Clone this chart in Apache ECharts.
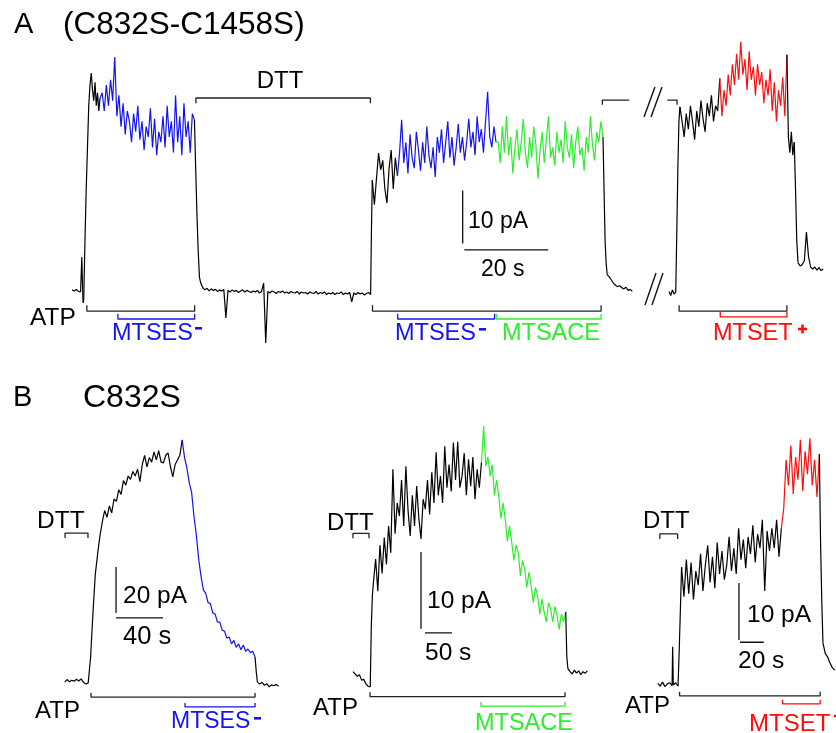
<!DOCTYPE html>
<html>
<head>
<meta charset="utf-8">
<script src="https://cdn.jsdelivr.net/npm/echarts@6/dist/echarts.min.js"></script>
<style>
  html, body { margin: 0; padding: 0; background: #fff; }
  #fig { width: 836px; height: 733px; }
</style>
</head>
<body>
<div id="fig"></div>
<script>
var BLK = '#000', BLU = '#1414f0', GRN = '#2cee2c', RED = '#ff0d0d';

// ---- Panel A, current in pA, time in s (second trace shifted past the break)
var a1Start = 2.9;
var a1Pre = [0.6, 0.4, 0.7, 0.3, 0.2];
var a1Blip = [3.5, 6.9, 2.0, -1.9, -1.5];
var a1Rise = [10, 20, 28, 36, 40, 42.3, 39, 37, 40.5, 36, 38.5, 35, 37.5];
var a1Mtses = [38.5, 35, 40, 36, 41, 37, 45.4, 34, 38, 32, 36.5, 30.5, 35, 33, 29, 34.5, 31, 36, 29.5, 33,
  27.5, 32, 30, 35.5, 28, 33.5, 26.5, 31, 29, 34, 28, 36, 30, 33, 27, 38, 29, 34, 26.5, 36.5,
  30, 33, 27, 34.5, 33.3];
var a1Off = [24, 15, 8, 3, 1.9];
var a1Dtt = [1.0, 0.6, 0.9, 0.4, 0.8, 0.5, 0.7, 0.3, 0.6, 0.4, 0.7, -4.8, 0.5, 0.2, 0.6, 0.3, 0.5, 0.1, 0.4, 0.6,
  0.2, 0.5, 0.3, 0.1, 0.4, 0.2, 0.5, 0.0, 0.3, 1.9, -9.6, 0.3, 0.0, 0.4, 0.2, -0.1, 0.3, 0.1, 0.4, 0.0,
  0.2, -0.1, 0.3, 0.1, 0.0, 0.3, -0.2, 0.2, 0.0, 0.1, -0.2, 0.2, 0.0, -0.1, 0.3, -0.2, 0.1, -0.1, 0.2, -0.3,
  0.0, -0.2, 0.1, -0.3, 0.0, -0.1, 0.2, -0.3, 0.0, -0.2, 0.1, -1.7, 0.0, -0.3, 0.1, -0.2, 0.0, -0.4, -0.1, 0.1, -0.3];
var a1Rise2 = [12, 21.7];
var a1Atp2 = [17, 22, 26.9, 23.7, 25.5, 20, 17.3, 24, 27.5, 20, 26, 22.5];
var a1Mtses2 = [27, 33.3, 25, 29, 23, 30.5, 26, 24, 31, 27.5, 23.5, 29, 25, 32, 26.5, 24, 28, 22.3, 30,
  27, 31.5, 25, 29, 33, 26, 30, 24.5, 28, 32.5, 27, 30, 25.5, 29, 33.5, 28, 31, 26.5, 34, 29,
  31.5, 27, 33, 38.7, 30, 28, 32, 29];
var a1Mtsace = [29, 25, 32, 27, 34, 26.5, 30, 23, 28, 31.5, 25.5, 29, 33.5, 27, 24, 30, 26, 32, 28.5, 22,
  27.5, 31, 25, 29.5, 34, 26, 28, 24.5, 31, 27, 29.5, 25, 33, 28, 26, 30.5, 24, 29, 32, 26.5,
  28, 23.5, 30, 27, 34, 28.5, 25.5, 31, 29, 33, 30];
var a1Off2 = [20, 10, 5.8, 3.5];
var a1Tail = [3.1, 2.5, 1.9, 1.5, 1.2, 1.4, 1.0, 0.8, 1.1, 0.5, 0.7, 0.3];

var a2Start = 145.2;
var a2Pre = [0.3, -0.5, 0.6, -0.2, 0.2];
var a2Rise = [12, 24, 33, 35.8];
var a2Atp = [33, 30, 34.5, 31.5, 36, 33, 29.5, 35, 32, 37, 33.5, 31, 36.5, 34, 38, 33, 36, 35, 41.3];
var a2Mtset = [34, 39, 36, 42, 38, 44, 40, 46, 41, 48.3, 42, 45, 39, 46.5, 41, 43.5, 38, 44, 40, 42.5,
  36.5, 41, 38, 43, 35, 40.5, 33, 39, 36, 41.5, 34, 45.8];
var a2Wash = [30, 27, 31, 26.5, 29];
var a2Off = [20, 10, 5.8];
var a2Tail = [5.2, 5.5, 6.2, 11.7, 7, 5, 4.6, 5, 4.4, 4.9, 4.3, 4.6];

// ---- Panel B1 (MTSES-)
var b1Start = 4;
var b1Pre = [0.4, 1.5, 0.5, 1.2, 0.8, 1.6, 0.9, 1.8, 0.3, -0.5];
var b1Atp = [0, 11, 30, 47, 56, 64, 70, 75, 72, 77, 74, 80, 79, 84, 82, 88, 86, 90, 88.5, 92,
  90, 93, 87.5, 95, 99, 94, 98, 96, 100.5, 97, 101, 96, 95.7, 99, 100, 94, 89.6, 95, 97, 99, 105.7];
var b1Mtses = [98, 93.5, 87, 83, 72.5, 64.5, 54, 46.5, 40.5, 39, 35, 34.5, 30.5, 30, 26.5, 26.5, 23, 22.5,
  19.5, 20, 17, 18.5, 15.5, 17, 14.5, 16.5, 13.8, 14.8, 13.2, 13.8, 11.3];
var b1Off = [5, 0.4];
var b1Tail = [-0.5, 0.3, -1.0, -0.3, -1.7, -0.8, -1.2, -0.6, -1.4];

// ---- Panel B2 (MTSACE)
var b2Start = 24;
var b2Pre = [0, -0.3, -0.6, -0.4, -1.1, -1.0, -1.6, -1.9, -2];
var b2Rise = [6, 10, 11.7];
var b2Atp = [14.7, 10.5, 16.5, 12.8, 17.5, 14, 19, 15.5, 26.4, 18, 22, 20.3, 25, 19, 26.8, 21, 17.7, 23, 19, 24.2,
  20, 17.3, 22.5, 21.2, 25, 20.5, 26, 22, 28.6, 23, 25.5, 22, 29.4, 24, 27, 23.5, 29.9, 25, 30, 24,
  25.5, 28.5, 23, 27.7, 24.2, 28, 22.5, 26.4, 24, 27.3];
var b2Mtsace = [32, 26.8, 28, 25.5, 27, 23, 25, 22.9, 20, 22, 19.9, 17, 19, 16.9, 14.5, 16.5, 15.6, 12.5, 14.5, 13.4,
  11, 13, 11.2, 9, 11, 9.9, 7.5, 9.5, 7.8, 6.5, 9, 8.2, 6.5, 8.5, 7.3, 5.5, 7.5, 6.5, 7.8];
var b2Off = [2, 0.4];
var b2Tail = [0, -0.3, 0.2, -0.2, 0.1, -0.4, 0, -0.2, 0.1];

// ---- Panel B3 (MTSET+)
var b3Start = 15;
var b3Pre = [0.3, -0.2, 0.5, -0.3, 0.2, 0.4, -0.1];
var b3Blip = [6.7, 0];
var b3Pre2 = [0.4, -0.2];
var b3Rise = [6, 13.2, 20.7];
var b3Atp = [15.5, 22, 16, 21.5, 15, 20, 17.5, 23, 16.5, 21, 24.5, 18, 22.5, 17, 25, 19.5, 23.5, 18.5, 21, 26,
  20, 24, 19.5, 27.5, 22, 25.5, 20.5, 26, 23, 28, 21.5, 26.5, 24, 29, 16.5, 27, 23.5, 27.5, 24, 29,
  22.5, 27.5];
var b3Mtset = [31, 39.5, 35, 42, 33.5, 40, 36, 43, 34, 41, 37, 43.3, 35, 39.5, 33, 40.5];
var b3Off = [25, 15, 7.4];
var b3Tail = [5.5, 4.9, 3.8, 3.0, 2.6];

// solution applications, [start s, end s]
var atpA = [[6.4, 32.1], [74.5, 129.0], [147.6, 173.3]];
var mtsesA = [[13.8, 32.1], [80.5, 103.6]];
var mtsaceA = [[104.0, 129.0]];
var mtsetA = [[157.4, 173.3]];
var dttA = [32.4, 74.0];
var dttA2 = [[129.3, 135.7], [144.8, 147.1]];
var atpB = [[26.4, 166], [55.6, 416.7], [33.3, 151.7]];
var dttB = [[4.3, 23.8], [24, 53.7], [16.7, 31.7]];
var drugB = [[106.4, 166], [261, 416.7], [120, 151.7]];

function build(t0, segs) {
  var out = [], t = t0, prev = null;
  segs.forEach(function (s) {
    var d = prev ? [prev] : [];
    s.v.forEach(function (y) {
      if (prev) t += s.dt;
      prev = [t, y];
      d.push(prev);
    });
    out.push({ c: s.c, data: d });
  });
  return out;
}

var traces = [
  { g: 0, parts: build(a1Start, [
    { c: BLK, dt: 0.5, v: a1Pre }, { c: BLK, dt: 0.15, v: a1Blip }, { c: BLK, dt: 0.3, v: a1Rise },
    { c: BLU, dt: 0.5, v: a1Mtses }, { c: BLK, dt: 0.3, v: a1Off }, { c: BLK, dt: 0.5, v: a1Dtt },
    { c: BLK, dt: 0.2, v: a1Rise2 }, { c: BLK, dt: 0.5, v: a1Atp2 }, { c: BLU, dt: 0.5, v: a1Mtses2 },
    { c: GRN, dt: 0.5, v: a1Mtsace }, { c: BLK, dt: 0.25, v: a1Off2 }, { c: BLK, dt: 0.5, v: a1Tail }]) },
  { g: 0, parts: build(a2Start, [
    { c: BLK, dt: 0.4, v: a2Pre }, { c: BLK, dt: 0.25, v: a2Rise }, { c: BLK, dt: 0.5, v: a2Atp },
    { c: RED, dt: 0.5, v: a2Mtset }, { c: BLK, dt: 0.35, v: a2Wash }, { c: BLK, dt: 0.3, v: a2Off },
    { c: BLK, dt: 0.5, v: a2Tail }]) },
  { g: 1, parts: build(b1Start, [
    { c: BLK, dt: 2, v: b1Pre }, { c: BLK, dt: 2, v: b1Atp }, { c: BLU, dt: 2, v: b1Mtses },
    { c: BLK, dt: 1, v: b1Off }, { c: BLK, dt: 2, v: b1Tail }]) },
  { g: 2, parts: build(b2Start, [
    { c: BLK, dt: 4, v: b2Pre }, { c: BLK, dt: 2, v: b2Rise }, { c: BLK, dt: 4, v: b2Atp },
    { c: GRN, dt: 4, v: b2Mtsace }, { c: BLK, dt: 2, v: b2Off }, { c: BLK, dt: 4, v: b2Tail }]) },
  { g: 3, parts: build(b3Start, [
    { c: BLK, dt: 2, v: b3Pre }, { c: BLK, dt: 0.5, v: b3Blip }, { c: BLK, dt: 2, v: b3Pre2 },
    { c: BLK, dt: 1, v: b3Rise }, { c: BLK, dt: 2, v: b3Atp }, { c: RED, dt: 2, v: b3Mtset },
    { c: BLK, dt: 1, v: b3Off }, { c: BLK, dt: 2, v: b3Tail }]) }
];

var series = [];
function line(g, data, color, w) {
  series.push({
    type: 'line', xAxisIndex: g, yAxisIndex: g, data: data, symbol: 'none', silent: true,
    lineStyle: { color: color, width: w || 1.2 }, z: 2
  });
}
traces.forEach(function (tr) {
  tr.parts.forEach(function (p) { line(tr.g, p.data, p.c, 1.2); });
});

// bracket at level y with end ticks of height h ('left' / 'right' = one tick only)
function bracket(g, r, y, h, color, ends) {
  var d = [];
  if (ends !== 'right') d.push([r[0], y + h]);
  d.push([r[0], y], [r[1], y]);
  if (ends !== 'left') d.push([r[1], y + h]);
  line(g, d, color, 1.3);
}
atpA.forEach(function (r) { bracket(0, r, -3.5, 1.15, '#222'); });
mtsesA.forEach(function (r) { bracket(0, r, -5.0, 1.0, BLU); });
mtsaceA.forEach(function (r) { bracket(0, r, -5.0, 1.0, GRN); });
mtsetA.forEach(function (r) { bracket(0, r, -4.6, 1.0, RED); });
bracket(0, dttA, 37.5, -1.0, '#222');
bracket(0, dttA2[0], 37.1, -0.9, '#222', 'left');
bracket(0, dttA2[1], 37.1, -0.9, '#222', 'right');

var bLevels = [
  { dtt: 65.2, dh: -2.2, atp: -6.1, drug: -10.4, th: 1.7, col: BLU },
  { dtt: 18.05, dh: -0.65, atp: -3.25, drug: -4.5, th: 0.55, col: GRN },
  { dtt: 26.5, dh: -0.9, atp: -1.9, drug: -3.3, th: 0.7, col: RED }
];
bLevels.forEach(function (L, i) {
  bracket(i + 1, dttB[i], L.dtt, L.dh, '#222');
  bracket(i + 1, atpB[i], L.atp, L.th, '#222');
  bracket(i + 1, drugB[i], L.drug, L.th, L.col);
});

// scale bars: [grid, t, pA low, pA high, pA of time bar, t start, t end]
var scaleBars = [
  [0, 96, 9.5, 19.7, 8.3, 96.4, 116.4],
  [1, 47.7, 30.4, 50.4, 28.3, 47.7, 87.7],
  [2, 150, 5.6, 15.6, 5.06, 157.4, 207.4],
  [3, 83.3, 7.9, 17.9, 7.5, 84.2, 104.2]
];
scaleBars.forEach(function (s) {
  line(s[0], [[s[1], s[2]], [s[1], s[3]]], '#111', 1.3);
  line(s[0], [[s[5], s[4]], [s[6], s[4]]], '#111', 1.3);
});

var grids = [
  { left: 60, top: 33, width: 777, height: 312 },
  { left: 60, top: 407, width: 235, height: 322 },
  { left: 340, top: 365, width: 270, height: 369.6 },
  { left: 640, top: 400, width: 198, height: 330.6 }
];
var xr = [[0, 185], [0, 200], [0, 500], [0, 165]];
var yr = [[-10, 50], [-20, 120], [-8, 40], [-8, 50]];

var FONT = '"Liberation Sans", Arial, sans-serif';
function txt(s, x, y, size, color, align) {
  return {
    type: 'text', silent: true, z: 10,
    style: { text: s, x: x, y: y, font: size + 'px ' + FONT, fill: color || '#000',
      align: align || 'left', verticalAlign: 'middle' }
  };
}
function stroke(x1, y1, x2, y2) {
  return { type: 'line', silent: true, shape: { x1: x1, y1: y1, x2: x2, y2: y2 },
    style: { stroke: '#111', lineWidth: 1.4 } };
}
function minus(x, y, color) {
  return { type: 'rect', silent: true, shape: { x: x, y: y, width: 7, height: 2.6 }, style: { fill: color } };
}
function plus(x, y, color) {
  return { type: 'group', silent: true, children: [
    { type: 'rect', shape: { x: x, y: y - 1.3, width: 9, height: 2.6 }, style: { fill: color } },
    { type: 'rect', shape: { x: x + 3.2, y: y - 4.5, width: 2.6, height: 9 }, style: { fill: color } }
  ] };
}

var graphics = [
  txt('A', 14, 25, 29), txt('(C832S-C1458S)', 63, 25, 31.5),
  txt('DTT', 280, 81.5, 24, '#000', 'center'),
  txt('ATP', 30, 318, 24.5),
  txt('MTSES', 112, 333.5, 23.5, BLU), minus(195, 327, BLU),
  txt('MTSES', 395, 333.5, 23.5, BLU), minus(479, 328, BLU),
  txt('MTSACE', 502, 333.5, 23.5, GRN),
  txt('MTSET', 713, 333.5, 23.5, RED), plus(798, 329, RED),
  txt('10 pA', 468, 222, 23), txt('20 s', 481, 270, 23),
  stroke(644, 117, 655, 87), stroke(651, 117, 662, 87),
  stroke(645, 305, 656, 273), stroke(652, 305, 663, 273),

  txt('B', 13, 398, 29), txt('C832S', 83, 398, 32),
  txt('DTT', 37, 521.5, 24.5), txt('20 pA', 123, 596, 24.5), txt('40 s', 123, 637, 25.5),
  txt('ATP', 35, 711, 24), txt('MTSES', 171, 722, 23, BLU), minus(254, 717, BLU),

  txt('DTT', 327, 523, 24), txt('10 pA', 427, 601, 24.5), txt('50 s', 425, 653.5, 24.5),
  txt('ATP', 313, 708.5, 24), txt('MTSACE', 475, 724, 23.5, GRN),

  txt('DTT', 643, 521.5, 24), txt('10 pA', 747, 615, 24.5), txt('20 s', 738, 661.5, 24.5),
  txt('ATP', 625, 706.5, 24), txt('MTSET', 749, 724, 24, RED), plus(834, 716, RED)
];

var chart = echarts.init(document.getElementById('fig'));
chart.setOption({
  animation: false,
  backgroundColor: '#fff',
  grid: grids,
  xAxis: xr.map(function (r, i) { return { type: 'value', gridIndex: i, min: r[0], max: r[1], show: false }; }),
  yAxis: yr.map(function (r, i) { return { type: 'value', gridIndex: i, min: r[0], max: r[1], show: false }; }),
  series: series,
  graphic: graphics
});
</script>
</body>
</html>
